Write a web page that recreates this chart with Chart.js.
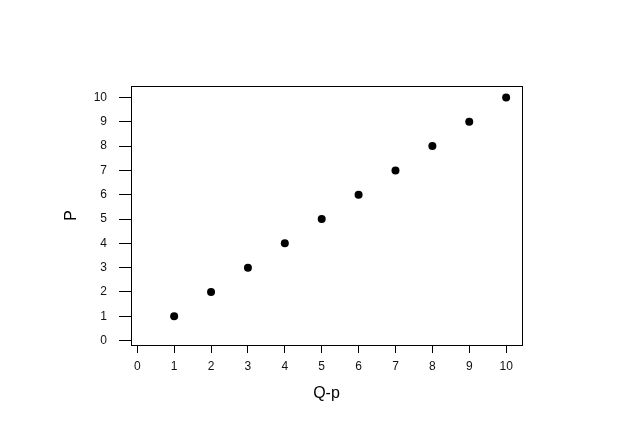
<!DOCTYPE html>
<html>
<head>
<meta charset="utf-8">
<script src="https://cdn.jsdelivr.net/npm/chart.js@4"></script>
<style>
html,body{margin:0;padding:0;background:#fff;}
#wrap{width:640px;height:424px;position:relative;}
</style>
</head>
<body>
<div id="wrap"><canvas id="c" width="640" height="424"></canvas></div>
<script>
const xValues = [1, 2, 3, 4, 5, 6, 7, 8, 9, 10];
const yValues = [1, 2, 3, 4, 5, 6, 7, 8, 9, 10];
const xTicks = [0, 1, 2, 3, 4, 5, 6, 7, 8, 9, 10];
const yTicks = [0, 1, 2, 3, 4, 5, 6, 7, 8, 9, 10];
const xTitle = 'Q-p';
const yTitle = 'P';

const points = xValues.map((x, i) => ({x: x, y: yValues[i]}));

const boxPlugin = {
  id: 'box',
  afterDraw(chart) {
    const {ctx, chartArea: a} = chart;
    ctx.save();
    ctx.strokeStyle = '#000';
    ctx.lineWidth = 1;
    ctx.strokeRect(Math.round(a.left) + 0.5, Math.round(a.top) + 0.5,
                   Math.round(a.right - a.left), Math.round(a.bottom - a.top));
    ctx.restore();
  }
};

new Chart(document.getElementById('c'), {
  type: 'scatter',
  data: {
    datasets: [{
      data: points,
      backgroundColor: '#000',
      borderColor: '#000',
      pointRadius: 4,
      pointHoverRadius: 4,
      borderWidth: 0
    }]
  },
  plugins: [boxPlugin],
  options: {
    responsive: false,
    animation: false,
    events: [],
    layout: {padding: {left: 0, top: 86, right: 118, bottom: 0}},
    plugins: {legend: {display: false}, tooltip: {enabled: false}},
    scales: {
      x: {
        type: 'linear',
        min: -0.17,
        max: 10.43,
        afterBuildTicks: s => { s.ticks = xTicks.map(v => ({value: v})); },
        afterFit: s => { s.height = 79; },
        grid: {display: true, drawOnChartArea: false, drawTicks: true, tickLength: 8, color: '#000', lineWidth: 1},
        border: {display: false},
        ticks: {color: '#111', font: {family: 'Liberation Sans, Arial', size: 12}, padding: 6, maxRotation: 0, autoSkip: false},
        title: {display: true, text: xTitle, color: '#000', font: {family: 'Liberation Sans, Arial', size: 16}, padding: {top: 0, bottom: 21}}
      },
      y: {
        type: 'linear',
        min: -0.18,
        max: 10.47,
        afterBuildTicks: s => { s.ticks = yTicks.map(v => ({value: v})); },
        afterFit: s => { s.width = 131; },
        grid: {display: true, drawOnChartArea: false, drawTicks: true, tickLength: 12, color: '#000', lineWidth: 1},
        border: {display: false},
        ticks: {color: '#111', font: {family: 'Liberation Sans, Arial', size: 12}, padding: 12, autoSkip: false},
        title: {display: true, text: yTitle, color: '#000', font: {family: 'Liberation Sans, Arial', size: 16}, padding: {top: 62, bottom: 0}}
      }
    }
  }
});
</script>
</body>
</html>
